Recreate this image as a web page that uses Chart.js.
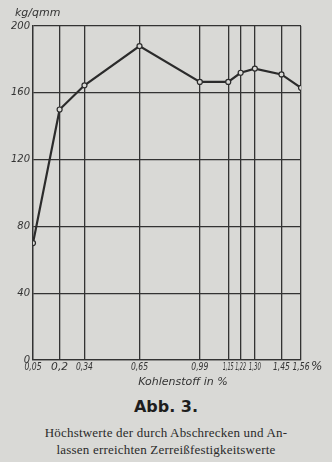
<!DOCTYPE html>
<html>
<head>
<meta charset="utf-8">
<script src="https://cdn.jsdelivr.net/npm/chart.js@4"></script>
<style>
	html, body { margin: 0; padding: 0; background: #d9d9d6; }
	#wrap { width: 332px; height: 462px; position: relative; overflow: hidden; }
	#box { position: absolute; left: 0; top: 0; width: 332px; height: 392px; }
	.abb { position: absolute; left: 0; width: 332px; top: 397px; text-align: center;
		font: bold 16px "DejaVu Sans", sans-serif; color: #1e1e1e; }
	.cap { position: absolute; left: 0; width: 332px; text-align: center;
		font: 13px "Liberation Serif", serif; color: #2a2a2a; letter-spacing: 0.2px; }
</style>
</head>
<body>
<div id="wrap">
	<div id="box"><canvas id="chart"></canvas></div>
	<div class="abb">Abb. 3.</div>
	<div class="cap" style="top:425px">Höchstwerte der durch Abschrecken und An-</div>
	<div class="cap" style="top:442px">lassen erreichten Zerreißfestigkeitswerte</div>
</div>
<script>
	// Kohlenstoff in %
	const carbon = [0.05, 0.2, 0.34, 0.65, 0.99, 1.15, 1.22, 1.30, 1.45, 1.56];
	const carbonLabels = ['0,05', '0,2', '0,34', '0,65', '0,99', '1,15', '1,22', '1,30', '1,45', '1,56'];
	// Zerreißfestigkeit kg/qmm
	const strength = [70, 150, 164.5, 188, 166.5, 166.5, 172, 174.5, 171, 163];
	const yTicks = [0, 40, 80, 120, 160, 200];

	const ink = '#333333';
	const paper = '#d9d9d6';
	const fam = '"DejaVu Sans", sans-serif';

	// the printed labels are narrow, squeeze them with maxWidth so neighbours don't collide
	const extraText = {
		id: 'extraText',
		afterDraw(chart) {
			const ctx = chart.ctx;
			const xs = chart.scales.x;
			const px = carbon.map(c => xs.getPixelForValue(c));
			ctx.save();
			ctx.fillStyle = ink;
			ctx.textBaseline = 'middle';
			ctx.textAlign = 'center';
			ctx.font = 'italic 11px ' + fam;
			px.forEach((x, i) => {
				let gap = 17;
				if (i > 0) gap = Math.min(gap, x - px[i - 1] - 2);
				if (i < px.length - 1) gap = Math.min(gap, px[i + 1] - x - 2);
				ctx.fillText(carbonLabels[i], x, 367, Math.max(gap, 11));
			});
			ctx.textAlign = 'left';
			ctx.font = 'italic 11px ' + fam;
			ctx.fillText('kg/qmm', 15, 13, 46);
			ctx.font = 'italic 12px ' + fam;
			ctx.fillText('%', 311, 367);
			ctx.textAlign = 'center';
			ctx.font = 'italic 11px ' + fam;
			ctx.fillText('Kohlenstoff in %', 183, 382, 96);
			ctx.restore();
		}
	};

	let ctx = document.getElementById('chart').getContext('2d');
	let chart = new Chart(ctx, {
		type: 'line',
		data: {
			datasets: [{
				data: carbon.map((c, i) => ({ x: c, y: strength[i] })),
				borderColor: '#2b2b2b',
				borderWidth: 2.2,
				pointRadius: 2.5,
				pointBorderWidth: 1.2,
				pointBackgroundColor: paper,
				pointBorderColor: '#2b2b2b',
				tension: 0
			}]
		},
		options: {
			animation: false,
			responsive: true,
			maintainAspectRatio: false,
			layout: { padding: { left: 0, right: 31, top: 26, bottom: 0 } },
			plugins: {
				legend: { display: false },
				tooltip: { enabled: false }
			},
			scales: {
				x: {
					type: 'linear',
					min: 0.05,
					max: 1.56,
					afterBuildTicks: (scale) => { scale.ticks = carbon.map(v => ({ value: v })); },
					afterFit: (scale) => { scale.height = 32; },
					ticks: { display: false },
					grid: { color: ink, lineWidth: 1.3, drawTicks: false },
					border: { color: ink, width: 1.3 }
				},
				y: {
					min: 0,
					max: 200,
					afterBuildTicks: (scale) => { scale.ticks = yTicks.map(v => ({ value: v })); },
					afterFit: (scale) => { scale.width = 33; },
					ticks: {
						padding: 3,
						color: ink,
						font: { family: fam, style: 'italic', size: 10 }
					},
					grid: { color: ink, lineWidth: 1.3, drawTicks: false },
					border: { color: ink, width: 1.3 }
				}
			}
		},
		plugins: [extraText]
	});
</script>
</body>
</html>
